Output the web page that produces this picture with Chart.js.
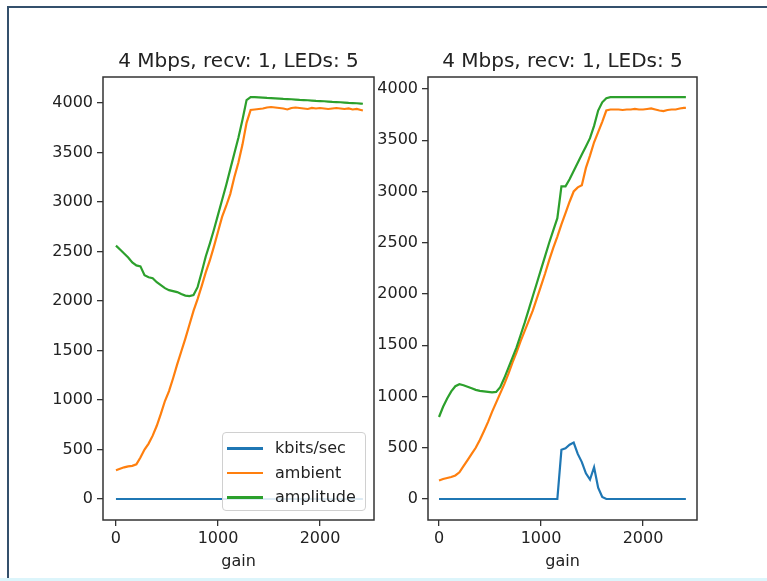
<!DOCTYPE html>
<html>
<head>
<meta charset="utf-8">
<script src="https://cdn.jsdelivr.net/npm/chart.js@4.4.1/dist/chart.umd.min.js"></script>
<style>
  html, body { margin: 0; padding: 0; background: #fff; }
  body { width: 767px; height: 581px; position: relative; overflow: hidden; font-family: "DejaVu Sans", sans-serif; }
  #frame { position: absolute; left: 7px; top: 6px; right: 0; bottom: 3px; border-left: 2px solid #34506c; border-top: 2px solid #34506c; }
  #strip { position: absolute; left: 0; right: 0; bottom: 0; height: 3px; background: #dcf5fb; }
  canvas { position: absolute; top: 0; }
  #leftChart { left: 0; }
  #rightChart { left: 360px; }
  #legend { position: absolute; left: 222px; top: 432px; width: 142px; height: 77px; border: 1px solid #d0d0d0; border-radius: 4px; background: rgba(255,255,255,0.85); }
  #legend .row { position: absolute; left: 0; height: 20px; font-size: 16px; color: #222; line-height: 20px; }
  #legend .swatch { position: absolute; left: 4px; top: 9px; width: 36px; height: 2.5px; }
  #legend .name { position: absolute; left: 52px; top: 0; white-space: nowrap; }
</style>
</head>
<body>
<div id="frame"></div>
<div id="strip"></div>
<canvas id="leftChart" width="390" height="581"></canvas>
<canvas id="rightChart" width="407" height="581"></canvas>
<div id="legend"></div>
<script>
// titles / labels
var plotTitle = '4 Mbps, recv: 1, LEDs: 5';
var xTitle = 'gain';
var seriesNames = ['kbits/sec', 'ambient', 'amplitude'];
var seriesColors = ['#1f77b4', '#ff7f0e', '#2ca02c'];
var yTicks = [0, 500, 1000, 1500, 2000, 2500, 3000, 3500, 4000];
var xTicks = [0, 1000, 2000];

// x values (gain)
var gain = [0, 40, 80, 120, 160, 200, 240, 280, 320, 360, 400, 440, 480, 520, 560, 600,
  640, 680, 720, 760, 800, 840, 880, 920, 960, 1000, 1040, 1080, 1120, 1160, 1200, 1240,
  1280, 1320, 1360, 1400, 1440, 1480, 1520, 1560, 1600, 1640, 1680, 1720, 1760, 1800,
  1840, 1880, 1920, 1960, 2000, 2040, 2080, 2120, 2160, 2200, 2240, 2280, 2320, 2360,
  2400, 2420];

// left subplot
var leftKbits = [0, 0, 0, 0, 0, 0, 0, 0, 0, 0, 0, 0, 0, 0, 0, 0,
  0, 0, 0, 0, 0, 0, 0, 0, 0, 0, 0, 0, 0, 0, 0, 0,
  0, 0, 0, 0, 0, 0, 0, 0, 0, 0, 0, 0, 0, 0,
  0, 0, 0, 0, 0, 0, 0, 0, 0, 0, 0, 0, 0, 0,
  0, 0];
var leftAmbient = [290, 305, 320, 330, 335, 350, 420, 500, 560, 640, 740, 860, 990, 1090, 1220, 1360,
  1490, 1620, 1760, 1900, 2020, 2150, 2290, 2410, 2550, 2700, 2850, 2960, 3080, 3250, 3400, 3580,
  3800, 3930, 3935, 3940, 3945, 3955, 3960, 3955, 3950, 3945, 3935, 3950, 3955, 3950,
  3945, 3940, 3950, 3945, 3950, 3945, 3940, 3945, 3950, 3945, 3940, 3945, 3935, 3940,
  3930, 3925];
var leftAmplitude = [2560, 2520, 2480, 2440, 2390, 2360, 2350, 2260, 2240, 2230, 2190, 2160, 2130, 2110, 2100, 2090,
  2070, 2055, 2050, 2060, 2140, 2290, 2450, 2580, 2720, 2870, 3020, 3170, 3330, 3490, 3650, 3830,
  4030, 4060, 4060, 4058, 4055, 4052, 4050, 4048, 4045, 4042, 4040, 4038, 4035, 4032,
  4030, 4028, 4025, 4022, 4020, 4018, 4015, 4012, 4010, 4008, 4005, 4002, 4000, 3998,
  3995, 3993];

// right subplot
var rightKbits = [0, 0, 0, 0, 0, 0, 0, 0, 0, 0, 0, 0, 0, 0, 0, 0,
  0, 0, 0, 0, 0, 0, 0, 0, 0, 0, 0, 0, 0, 0, 480, 495,
  530, 550, 440, 360, 250, 190, 310, 110, 20, 0, 0, 0, 0, 0,
  0, 0, 0, 0, 0, 0, 0, 0, 0, 0, 0, 0, 0, 0,
  0, 0];
var rightAmbient = [180, 195, 205, 215, 230, 260, 320, 380, 440, 500, 575, 660, 750, 850, 940, 1030,
  1120, 1220, 1330, 1430, 1540, 1640, 1740, 1840, 1960, 2080, 2200, 2330, 2450, 2560, 2680, 2790,
  2900, 3000, 3040, 3060, 3230, 3350, 3480, 3580, 3680, 3790, 3800, 3800, 3800, 3795,
  3800, 3800, 3805, 3800, 3800, 3805, 3810, 3800, 3790, 3785, 3795, 3800, 3800, 3810,
  3815, 3815];
var rightAmplitude = [800, 900, 980, 1050, 1100, 1120, 1110, 1095, 1080, 1065, 1055, 1050, 1045, 1040, 1045, 1090,
  1180, 1280, 1380, 1480, 1600, 1720, 1850, 1980, 2110, 2240, 2370, 2500, 2620, 2740, 3050, 3050,
  3120, 3200, 3280, 3360, 3440, 3520, 3640, 3790, 3870, 3910, 3920, 3920, 3920, 3920,
  3920, 3920, 3920, 3920, 3920, 3920, 3920, 3920, 3920, 3920, 3920, 3920, 3920, 3920,
  3920, 3920];

var textColor = '#222';
var axisColor = '#333';
var fontFamily = '"DejaVu Sans", sans-serif';

// draw the matplotlib-like frame round the plot area
var boxPlugin = {
  id: 'box',
  afterDatasetsDraw: function(chart) {
    var a = chart.chartArea;
    var ctx = chart.ctx;
    ctx.save();
    ctx.strokeStyle = axisColor;
    ctx.lineWidth = 1.5;
    ctx.strokeRect(a.left, a.top, a.right - a.left, a.bottom - a.top);
    ctx.restore();
  }
};

function toPoints(values) {
  return values.map(function(v, i) { return { x: gain[i], y: v }; });
}

function makeChart(id, series, cfg) {
  var datasets = series.map(function(values, i) {
    return {
      label: seriesNames[i],
      data: toPoints(values),
      borderColor: seriesColors[i],
      backgroundColor: seriesColors[i],
      borderWidth: 2.2,
      pointRadius: 0,
      tension: 0,
      order: series.length - i
    };
  });

  return new Chart(document.getElementById(id), {
    type: 'line',
    data: { datasets: datasets },
    plugins: [boxPlugin],
    options: {
      responsive: false,
      animation: false,
      layout: { padding: { left: 0, right: cfg.rightPad, top: 0, bottom: 0 } },
      plugins: {
        legend: { display: false },
        tooltip: { enabled: false },
        title: {
          display: true,
          fullSize: false,  // centre over the plot area, like matplotlib
          text: plotTitle,
          color: textColor,
          font: { family: fontFamily, size: 20, weight: 'normal' },
          padding: { top: 50, bottom: 3 }
        }
      },
      scales: {
        x: {
          type: 'linear',
          min: cfg.xMin,
          max: cfg.xMax,
          afterBuildTicks: function(s) { s.ticks = xTicks.map(function(v) { return { value: v }; }); },
          afterFit: function(s) { s.height = 61; },
          border: { display: false },
          grid: { drawOnChartArea: false, drawTicks: true, tickLength: 6, color: axisColor, lineWidth: 1.3 },
          ticks: {
            color: textColor, padding: 3, maxRotation: 0,
            font: { family: fontFamily, size: 16 },
            callback: function(v) { return String(v); }
          },
          title: {
            display: true, text: xTitle, color: textColor,
            font: { family: fontFamily, size: 16 },
            padding: { top: 0, bottom: 10 }
          }
        },
        y: {
          type: 'linear',
          min: cfg.yMin,
          max: cfg.yMax,
          afterBuildTicks: function(s) { s.ticks = yTicks.map(function(v) { return { value: v }; }); },
          afterFit: function(s) { s.width = cfg.yWidth; },
          border: { display: false },
          grid: { drawOnChartArea: false, drawTicks: true, tickLength: 6, color: axisColor, lineWidth: 1.3 },
          ticks: {
            color: textColor, padding: 4,
            font: { family: fontFamily, size: 16 },
            callback: function(v) { return String(v); }
          }
        }
      }
    }
  });
}

makeChart('leftChart', [leftKbits, leftAmbient, leftAmplitude],
  { xMin: -127, xMax: 2529, yMin: -212, yMax: 4263, yWidth: 103, rightPad: 16 });
makeChart('rightChart', [rightKbits, rightAmbient, rightAmplitude],
  { xMin: -108, xMax: 2529, yMin: -205, yMax: 4117, yWidth: 68, rightPad: 70 });

// legend in the lower right of the left plot
var legend = document.getElementById('legend');
seriesNames.forEach(function(name, i) {
  var row = document.createElement('div');
  row.className = 'row';
  row.style.top = (5 + i * 24.5) + 'px';
  row.innerHTML = '<div class="swatch" style="background:' + seriesColors[i] + '"></div>' +
    '<div class="name">' + name + '</div>';
  legend.appendChild(row);
});
</script>
</body>
</html>
